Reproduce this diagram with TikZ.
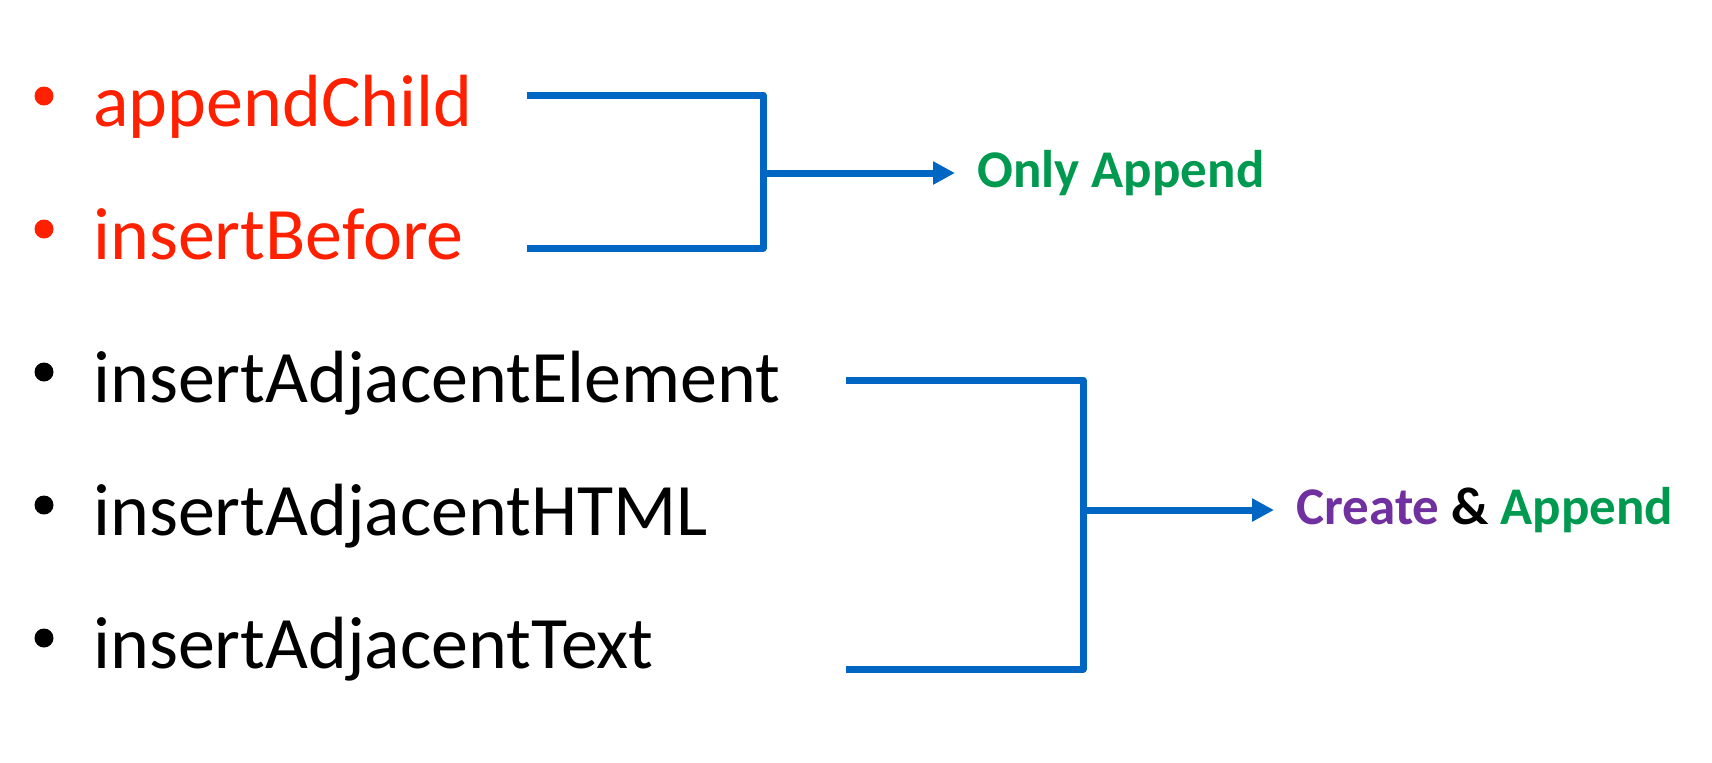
\documentclass[tikz,border=0pt]{standalone}
\usepackage{fontspec}
\setmainfont{Carlito}
\usetikzlibrary{arrows.meta}
\definecolor{itemred}{RGB}{255,32,0}
\definecolor{brkblue}{RGB}{0,102,196}
\definecolor{lblgreen}{RGB}{0,153,80}
\definecolor{lblpurple}{RGB}{112,48,160}
\tikzset{
  brk/.style={brkblue, line width=3.5pt, line join=round},
  arr/.style={brk, -{Triangle[length=11pt,width=11pt]}},
  lbl/.style={anchor=west, inner xsep=11pt, inner ysep=0pt, font=\fontsize{26.5}{30}\selectfont\bfseries}
}
\begin{document}
\begin{tikzpicture}[x=0.5pt, y=-0.5pt, every node/.style={font=\fontsize{37}{44}\selectfont}]
  \useasboundingbox (0,0) rectangle (1712,762);
  % the five methods
  \foreach \nm/\yb/\col/\txt in {child/126/itemred/appendChild, before/259/itemred/insertBefore,
      elem/402/black/insertAdjacentElement, html/535/black/insertAdjacentHTML,
      text/668/black/insertAdjacentText}{
    \fill[\col] (44,\yb-30) circle (4.75pt);
    \node[anchor=base west, inner sep=0pt, text=\col] (\nm) at (93,\yb) {\txt};
  }
  % brackets
  \coordinate (top1) at (527,95);
  \coordinate (mid1) at (763,173);
  \coordinate (bot1) at (527,248);
  \coordinate (top2) at (846,380);
  \coordinate (mid2) at (1083,510);
  \coordinate (bot2) at (846,669);
  \node[lbl, text=lblgreen] (only) at (955,173) {Only Append};
  \node[lbl] (create) at (1274,510)
    {\textcolor{lblpurple}{Create} \& \textcolor{lblgreen}{Append}};
  \draw[brk] (top1) -| (mid1) |- (bot1);
  \draw[brk] (top2) -| (mid2) |- (bot2);
  \draw[arr] (mid1) -- (only);
  \draw[arr] (mid2) -- (create);
\end{tikzpicture}
\end{document}
